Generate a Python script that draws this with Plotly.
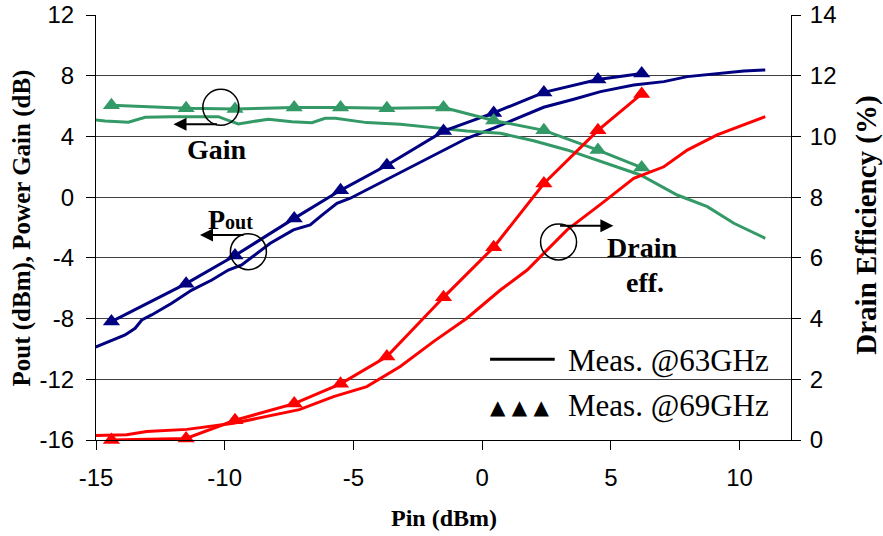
import plotly.graph_objects as go

# ---------------- data ----------------
# 69 GHz measurement (markers joined by lines)
pin69 = [-14.4, -11.5, -9.6, -7.3, -5.5, -3.7, -1.5, 0.45, 2.4, 4.5, 6.2]
pout69 = [-8.2, -5.7, -3.85, -1.4, 0.45, 2.1, 4.35, 5.55, 6.9, 7.75, 8.15]
gain69 = [6.05, 5.85, 5.8, 5.9, 5.9, 5.85, 5.9, 5.05, 4.4, 3.1, 1.95]
de69 = [0.0, 0.05, 0.65, 1.2, 1.85, 2.75, 4.7, 6.35, 8.45, 10.2, 11.4]

# 63 GHz measurement (solid lines)
pin63_pout = [-15.3, -14.65, -13.87, -13.48, -13.22, -12.84, -12.06, -11.28, -10.5,
              -9.86, -9.34, -9.0, -8.23, -7.33, -6.68, -6.22, -5.64, -5.12, -3.83,
              -2.53, -1.5, -0.59, 0.45, 1.36, 2.39, 3.56, 4.6, 5.89, 7.06, 7.97,
              9.13, 10.17, 11.0]
pout63 = [-10.07, -9.63, -9.08, -8.64, -8.09, -7.76, -6.99, -6.12, -5.46,
          -4.8, -4.47, -4.03, -3.04, -2.16, -1.83, -1.18, -0.41, -0.07, 1.05,
          2.23, 3.11, 3.88, 4.54, 5.2, 5.92, 6.45, 6.95, 7.39, 7.61, 7.94,
          8.16, 8.31, 8.38]

pin63_gain = [-15.3, -14.65, -13.74, -13.09, -12.06, -10.25, -9.73, -9.47, -8.95,
              -8.3, -7.39, -6.61, -6.1, -5.7, -4.48, -3.18, -1.89, -0.59, 0.71,
              2.0, 3.3, 4.6, 6.15, 7.58, 8.75, 9.78, 11.0]
gain63 = [5.13, 5.02, 4.93, 5.26, 5.3, 5.3, 4.97, 4.82, 4.97,
          5.13, 4.97, 4.9, 5.2, 5.2, 4.91, 4.8, 4.58, 4.36, 4.21,
          3.72, 3.11, 2.34, 1.46, 0.14, -0.63, -1.72, -2.71]

pin63_de = [-15.3, -13.81, -13.03, -11.47, -9.66, -7.1, -5.77, -4.48, -3.18,
            -1.89, -0.59, 0.71, 1.75, 3.3, 4.6, 5.89, 7.06, 7.97, 9.13, 10.04, 11.0]
de63 = [0.14, 0.17, 0.28, 0.35, 0.55, 1.0, 1.43, 1.76, 2.42,
        3.24, 4.01, 4.94, 5.6, 6.92, 7.76, 8.62, 9.0, 9.55, 10.05, 10.34, 10.65]

x_ticks = [-15, -10, -5, 0, 5, 10]
y_ticks = [-16, -12, -8, -4, 0, 4, 8, 12]
y2_ticks = [0, 2, 4, 6, 8, 10, 12, 14]

NAVY = "#000080"
GREEN = "#339966"
RED = "#FF0000"
SERIF = "Liberation Serif, Times New Roman, serif"
SANS = "Liberation Sans, Arial, sans-serif"

fig = go.Figure()

# 63 GHz lines
fig.add_trace(go.Scatter(x=pin63_pout, y=pout63, mode="lines",
                         line=dict(color=NAVY, width=3), showlegend=False))
fig.add_trace(go.Scatter(x=pin63_gain, y=gain63, mode="lines",
                         line=dict(color=GREEN, width=3), showlegend=False))
fig.add_trace(go.Scatter(x=pin63_de, y=de63, mode="lines", yaxis="y2",
                         line=dict(color=RED, width=3), showlegend=False))

# 69 GHz lines + triangles
mk = dict(symbol="triangle-up", size=15)
fig.add_trace(go.Scatter(x=pin69, y=pout69, mode="lines+markers", cliponaxis=False,
                         line=dict(color=NAVY, width=3), marker=dict(color=NAVY, **mk),
                         showlegend=False))
fig.add_trace(go.Scatter(x=pin69, y=gain69, mode="lines+markers", cliponaxis=False,
                         line=dict(color=GREEN, width=3), marker=dict(color=GREEN, **mk),
                         showlegend=False))
fig.add_trace(go.Scatter(x=pin69, y=de69, mode="lines+markers", yaxis="y2", cliponaxis=False,
                         line=dict(color=RED, width=3), marker=dict(color=RED, **mk),
                         showlegend=False))

# ---------------- annotation circles ----------------
circles = [(-10.15, 5.92), (-9.08, -3.59), (2.97, -2.95)]
for cx, cy in circles:
    fig.add_shape(type="circle", xref="x", yref="y",
                  xsizemode="pixel", ysizemode="pixel",
                  xanchor=cx, yanchor=cy, x0=-18, x1=18, y0=-18, y1=18,
                  line=dict(color="black", width=1.5), layer="above")

# arrows (tip x,y ; tail ax,ay)
arrows = [(-11.99, 4.80, -10.24, 4.80), (-10.96, -2.49, -9.21, -2.49), (5.10, -1.88, 2.97, -1.88)]
for x, y, ax, ay in arrows:
    fig.add_annotation(x=x, y=y, ax=ax, ay=ay, xref="x", yref="y", axref="x", ayref="y",
                       text="", showarrow=True, arrowhead=2, arrowsize=1.3,
                       arrowwidth=2, arrowcolor="black", standoff=0, startstandoff=0)

lab_font = dict(family=SERIF, size=28, color="black")
fig.add_annotation(x=-10.3, y=3.11, xref="x", yref="y", text="<b>Gain</b>",
                   showarrow=False, font=lab_font)
fig.add_annotation(x=-9.79, y=-1.44, xref="x", yref="y",
                   text="<b>P<span style='font-size:20px'>out</span></b>",
                   showarrow=False, font=lab_font)
fig.add_annotation(x=6.23, y=-3.35, xref="x", yref="y", text="<b>Drain</b>",
                   showarrow=False, font=lab_font)
fig.add_annotation(x=6.31, y=-5.65, xref="x", yref="y", text="<b>eff.</b>",
                   showarrow=False, font=lab_font)

# ---------------- legend (drawn) ----------------
fig.add_shape(type="line", xref="paper", yref="paper", x0=0.567, x1=0.660, y0=0.19, y1=0.19,
              line=dict(color="black", width=3))
fig.add_annotation(x=0.676, y=0.186, xref="paper", yref="paper",
                   xanchor="left", yanchor="middle",
                   text="Meas. @63GHz", showarrow=False,
                   font=dict(family=SERIF, size=31, color="black"))
fig.add_annotation(x=0.564, y=0.078, xref="paper", yref="paper",
                   xanchor="left", yanchor="middle",
                   text="▲ ▲ ▲", showarrow=False,
                   font=dict(family="DejaVu Sans", size=20, color="black"))
fig.add_annotation(x=0.676, y=0.082, xref="paper", yref="paper",
                   xanchor="left", yanchor="middle",
                   text="Meas. @69GHz", showarrow=False,
                   font=dict(family=SERIF, size=31, color="black"))

# ---------------- axis titles ----------------
fig.add_annotation(x=-0.1065, y=0.5, xref="paper", yref="paper", textangle=-90,
                   xanchor="center", yanchor="middle",
                   text="<b>Pout (dBm), Power Gain (dB)</b>", showarrow=False,
                   font=dict(family=SERIF, size=25, color="black"))
fig.add_annotation(x=1.109, y=0.506, xref="paper", yref="paper", textangle=-90,
                   xanchor="center", yanchor="middle",
                   text="<b>Drain Efficiency (%)</b>", showarrow=False,
                   font=dict(family=SERIF, size=29, color="black"))
fig.add_annotation(x=0.5, y=(440 - 518) / 425, xref="paper", yref="paper",
                   xanchor="center", yanchor="middle",
                   text="<b>Pin (dBm)</b>", showarrow=False,
                   font=dict(family=SERIF, size=24, color="black"))

tick_font = dict(family=SANS, size=24, color="black")
fig.update_layout(
    width=883, height=536,
    margin=dict(l=96, r=92, t=15, b=96, autoexpand=False),
    paper_bgcolor="white", plot_bgcolor="white",
    showlegend=False,
    xaxis=dict(range=[-15, 12], tickvals=x_ticks, ticktext=[str(v) for v in x_ticks],
               showgrid=False, zeroline=False, showline=True, linecolor="black", linewidth=1,
               ticks="outside", ticklen=9, tickcolor="black", tickfont=tick_font,
               ticklabelstandoff=7, automargin=False),
    yaxis=dict(range=[-16, 12], tickvals=y_ticks, ticktext=[str(v) for v in y_ticks],
               showgrid=True, gridcolor="#404040", gridwidth=1, zeroline=False,
               showline=True, linecolor="black", linewidth=1,
               ticks="outside", ticklen=9, tickcolor="black", tickfont=tick_font,
               ticklabelstandoff=7, automargin=False),
    yaxis2=dict(range=[0, 14], tickvals=y2_ticks, ticktext=[str(v) for v in y2_ticks],
                overlaying="y", side="right", showgrid=False, zeroline=False,
                showline=True, linecolor="black", linewidth=1,
                ticks="outside", ticklen=9, tickcolor="black", tickfont=tick_font,
                ticklabelstandoff=4, automargin=False),
)

fig.write_html("out.html", config={"displayModeBar": False},
               post_script="document.body.style.margin='0px';document.body.style.overflow='hidden';")
